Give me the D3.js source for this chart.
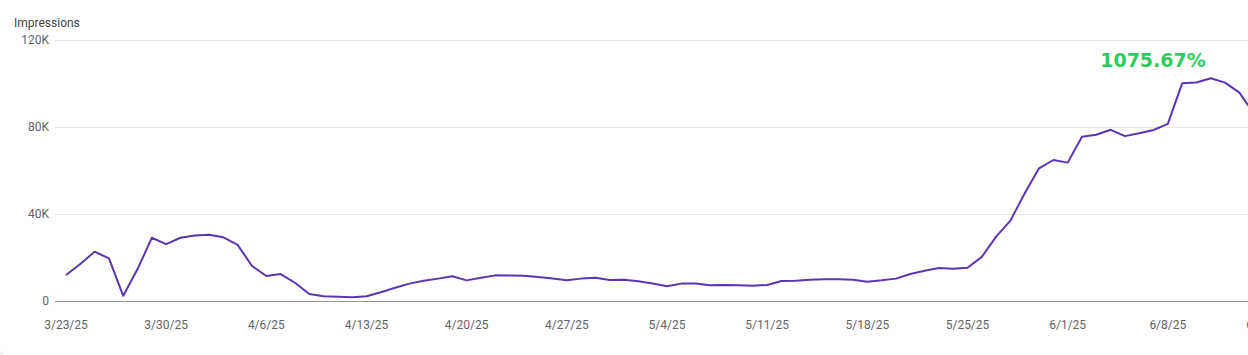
<!DOCTYPE html>
<html>
<head>
<meta charset="utf-8">
<script src="https://cdn.jsdelivr.net/npm/d3@7"></script>
<style>
  html, body { margin: 0; padding: 0; background: #eef0f1; overflow: hidden; }
  svg { display: block; }
</style>
</head>
<body>
<svg id="chart" width="1248" height="355"></svg>
<script>
// ---- data ----
const startDate = "2025-03-23";
const impressions = [
  12.0, 17.0, 22.7, 19.6, 2.4, 14.7, 29.1, 26.2, 29.1, 30.2, 30.5, 29.3, 25.8, 16.1,
  11.5, 12.4, 8.4, 3.2, 2.2, 2.0, 1.7, 2.2, 4.0, 6.1, 8.0, 9.3, 10.3, 11.4,
  9.5, 10.7, 11.8, 11.7, 11.6, 11.0, 10.4, 9.5, 10.3, 10.7, 9.7, 9.8, 9.1, 8.1,
  6.8, 8.0, 8.1, 7.2, 7.4, 7.2, 7.0, 7.4, 9.2, 9.3, 9.8, 10.0, 10.0, 9.8,
  8.9, 9.5, 10.3, 12.4, 13.9, 15.2, 14.9, 15.3, 20.3, 29.6, 37.0, 49.6, 61.1, 64.9,
  63.7, 75.6, 76.5, 78.8, 75.9, 77.2, 78.7, 81.5, 100.2, 100.6, 102.5, 100.5, 95.9, 86.5
].map(v => v * 1000);
const yTicks = [0, 40000, 80000, 120000];
const yTickLabels = ["0", "40K", "80K", "120K"];
const xTickDates = ["2025-03-23","2025-03-30","2025-04-06","2025-04-13","2025-04-20","2025-04-27",
  "2025-05-04","2025-05-11","2025-05-18","2025-05-25","2025-06-01","2025-06-08","2025-06-15"];
const yAxisTitle = "Impressions";
const annotationText = "1075.67%";

// ---- build ----
const parse = d3.utcParse("%Y-%m-%d");
const t0 = parse(startDate);
const data = impressions.map((v, i) => ({ date: d3.utcDay.offset(t0, i), value: v }));

const svg = d3.select("#chart");
const W = 1248, H = 355;

// card background with rounded corners (only bottom-left corner visible)
svg.append("rect").attr("x", -2).attr("y", -20).attr("width", W + 30).attr("height", 377)
  .attr("rx", 14).attr("fill", "#ffffff");

const x = d3.scaleUtc()
  .domain([parse("2025-03-23"), parse("2025-06-15")])
  .range([66, 1268]);
const y = d3.scaleLinear().domain([0, 120000]).range([301, 40.3]);

const font = "Roboto, 'Noto Sans', Arial, sans-serif";
const textColor = "#5f6368";

// gridlines
svg.append("g").selectAll("line").data(yTicks.filter(d => d > 0)).join("line")
  .attr("x1", 55).attr("x2", W)
  .attr("y1", d => Math.round(y(d)) + 0.5).attr("y2", d => Math.round(y(d)) + 0.5)
  .attr("stroke", "#e9e9e9").attr("stroke-width", 1);

// baseline
svg.append("line").attr("x1", 55).attr("x2", W)
  .attr("y1", Math.round(y(0)) + 0.5).attr("y2", Math.round(y(0)) + 0.5)
  .attr("stroke", "#9a9a9a").attr("stroke-width", 1);

// y labels
svg.append("g").selectAll("text").data(yTicks).join("text")
  .attr("x", 49).attr("y", d => y(d) + 4)
  .attr("text-anchor", "end")
  .attr("font-family", font).attr("font-size", 12).attr("fill", textColor)
  .text((d, i) => yTickLabels[i]);

// y title
svg.append("text").attr("x", 14).attr("y", 27)
  .attr("font-family", font).attr("font-size", 12).attr("fill", "#444")
  .text(yAxisTitle);

// x labels
const fmt = d3.utcFormat("%-m/%-d/%y");
svg.append("g").selectAll("text").data(xTickDates.map(parse)).join("text")
  .attr("x", d => x(d)).attr("y", 329)
  .attr("text-anchor", "middle")
  .attr("font-family", font).attr("font-size", 12).attr("fill", textColor)
  .text(d => fmt(d));

// line
const line = d3.line().x(d => x(d.date)).y(d => y(d.value));
svg.append("path").datum(data)
  .attr("d", line)
  .attr("fill", "none")
  .attr("stroke", "#5e35b1")
  .attr("stroke-width", 2)
  .attr("stroke-linejoin", "round");

// annotation
svg.append("text").attr("x", 1153).attr("y", 67)
  .attr("text-anchor", "middle")
  .attr("font-family", "'DejaVu Sans', Verdana, sans-serif")
  .attr("font-weight", "bold").attr("font-size", 19)
  .attr("fill", "#2ecc5f")
  .text(annotationText);
</script>
</body>
</html>
